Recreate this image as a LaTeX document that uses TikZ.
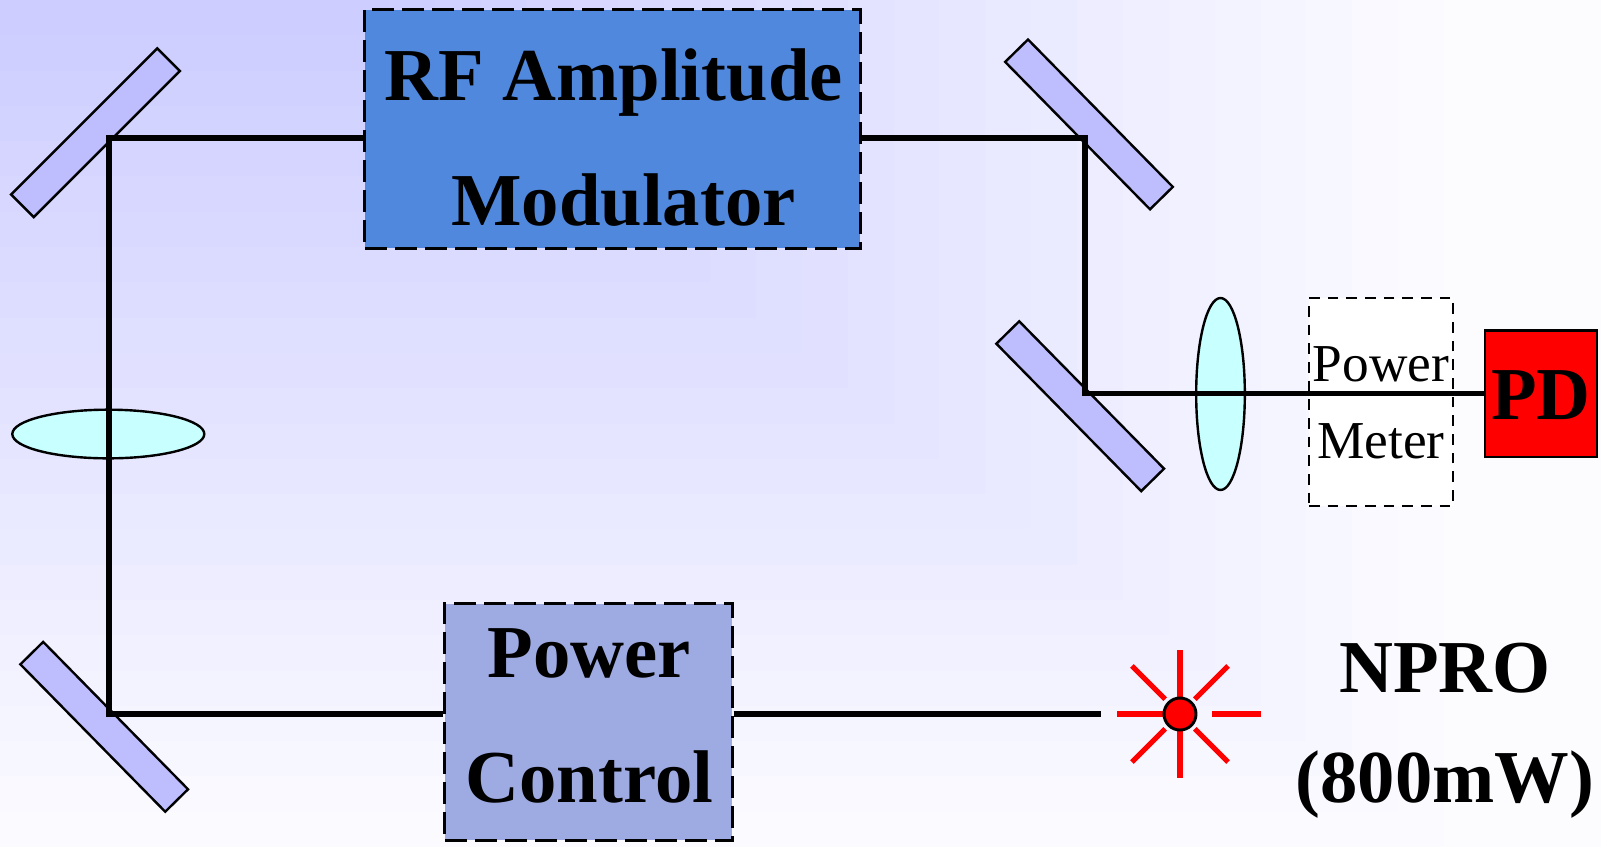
\documentclass[tikz,border=0pt]{standalone}
\usepackage{fontspec}
\setmainfont{Liberation Serif}
\usetikzlibrary{shapes.geometric}
\definecolor{bgtop}{RGB}{204,204,255}
\definecolor{bgbottom}{RGB}{252,252,255}
\definecolor{ampblue}{RGB}{80,136,222}
\definecolor{ctrlblue}{RGB}{158,170,226}
\definecolor{mirrorblue}{RGB}{190,190,255}
\definecolor{lenscyan}{RGB}{200,255,255}
\tikzset{
	mirror/.style={draw,line width=1.8pt,fill=mirrorblue,minimum width=155pt,minimum height=24pt,inner sep=0pt},
	lens/.style={draw,ellipse,line width=1.8pt,fill=lenscyan,inner sep=0pt},
	dashbox/.style={draw,line width=2.1pt,dash pattern=on 16.5pt off 6pt,inner sep=0pt},
	thinbox/.style={draw,line width=2.1pt,dash pattern=on 8pt off 6pt,inner sep=0pt},
	beam/.style={line width=4.2pt},
	ray/.style={line width=3.8pt,red},
	bigtext/.style={font=\fontsize{56}{94}\selectfont\bfseries,align=center,inner sep=0pt},
	smalltext/.style={font=\fontsize{40}{57.5}\selectfont,align=center,inner sep=0pt}
}
\begin{document}
\begin{tikzpicture}[x=0.75pt,y=-0.75pt]
\useasboundingbox (0,0) rectangle (1601,847);
\fill[bgbottom] (0,0) rectangle (1601,847);
\foreach \i in {24,...,1}{
	\pgfmathsetmacro{\pc}{100-100*(\i-0.5)/24}
	\pgfmathsetmacro{\bx}{343+1101*(\i/24)}
	\pgfmathsetmacro{\by}{847*(\i/24)}
	\fill[bgtop!\pc!bgbottom] (0,0) rectangle (\bx,\by);
}
\node[mirror,rotate=45] (mirrorA) at (95.5,132.7) {};
\node[mirror,rotate=-45.5] (mirrorB) at (1089,124.4) {};
\node[mirror,rotate=-45.5] (mirrorC) at (1080.2,406.2) {};
\node[mirror,rotate=-45.5] (mirrorD) at (104.2,726.8) {};
\node[lens,minimum width=144pt,minimum height=36.5pt] (lensA) at (108.3,434) {};
\node[lens,minimum width=36.5pt,minimum height=144pt] (lensB) at (1220.5,394) {};
\node[dashbox,fill=ampblue,minimum width=371.5pt,minimum height=179pt] (amp) at (612.5,129) {};
\node[dashbox,fill=ctrlblue,minimum width=215.5pt,minimum height=177.5pt] (ctrl) at (588.5,722) {};
\node[thinbox,fill=white,minimum width=108pt,minimum height=156pt] (meter) at (1381,402) {};
\node[draw,line width=2pt,fill=red,minimum width=84pt,minimum height=95pt,inner sep=0pt] (pd) at (1541,393.5) {};
\coordinate (cornerA) at (109,138);
\coordinate (cornerB) at (1085,138);
\coordinate (cornerC) at (1085,393.5);
\coordinate (cornerD) at (109,714);
\coordinate (laserend) at (1101,714);
\coordinate (lasercenter) at (1180,714);
\draw[beam] (amp.west|-cornerA) -- (cornerA) -- (cornerD) -- (ctrl.west|-cornerD);
\draw[beam] (amp.east|-cornerB) -- (cornerB) -- (cornerC) -- (pd.west|-cornerC);
\draw[beam] (ctrl.east|-laserend) -- (laserend);
\foreach \ang/\rin/\rlen in {0/32/49,45/21/47,90/16/48,135/21/47,180/16/47,225/21/47,270/16/48,315/21/47}{
	\draw[ray] (lasercenter) ++(\ang:\rin) -- ++(\ang:\rlen);
}
\node[circle,draw,line width=2.2pt,fill=red,minimum size=24pt,inner sep=0pt] (laser) at (lasercenter) {};
\node[bigtext,anchor=base] (amptext) at (613.5,225.5) {RF Amplitude\\\hspace*{15pt}Modulator};
\node[bigtext,anchor=base] (ctrltext) at (589.5,802.5) {Power\\Control};
\node[bigtext,anchor=base] (nprotext) at (1445,802) {NPRO\\[-11.5pt](800mW)};
\node[bigtext,anchor=base] (pdtext) at (1541,419) {PD};
\node[smalltext,anchor=base] (metertext) at (1381,458.5) {Power\\Meter};
\end{tikzpicture}
\end{document}
